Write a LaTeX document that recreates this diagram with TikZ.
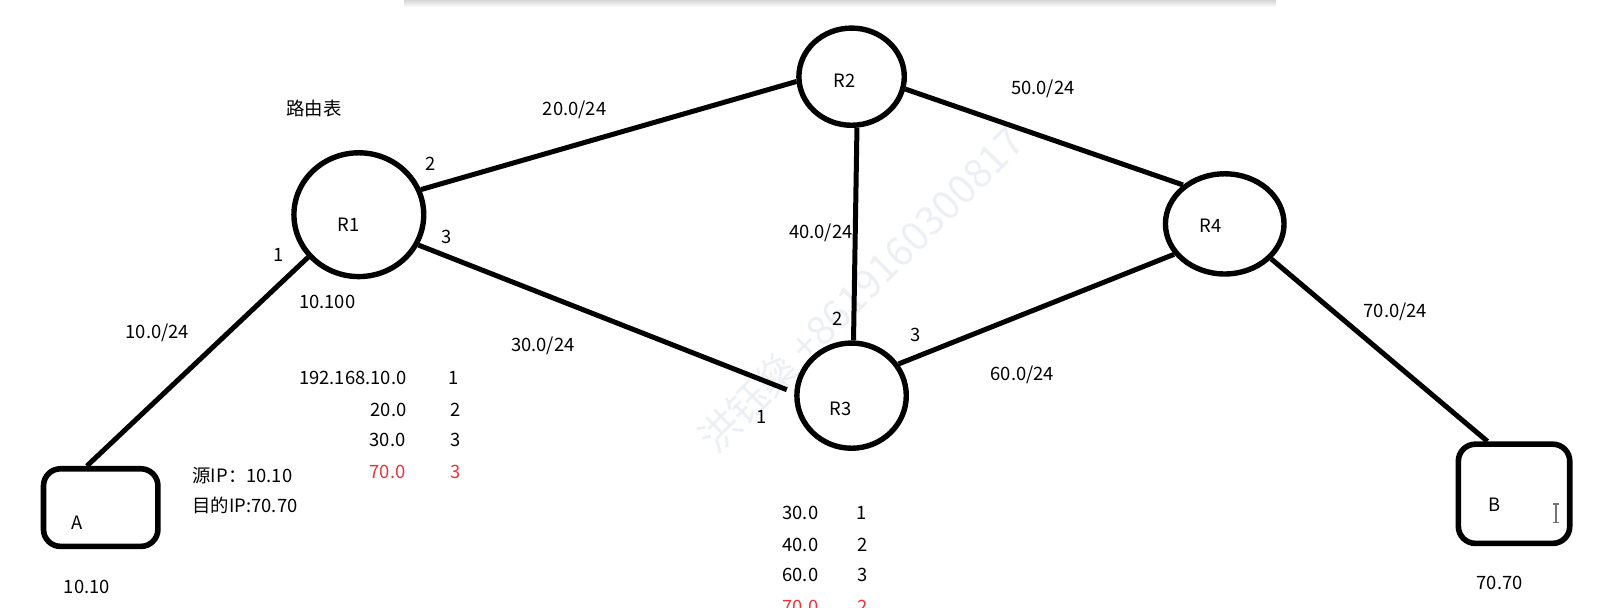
\documentclass[tikz,border=0pt]{standalone}
\usepackage{fontspec}
\setmainfont{Noto Sans CJK SC}
\usetikzlibrary{shapes.geometric,calc}
\definecolor{tabred}{RGB}{232,52,62}
\definecolor{wmark}{RGB}{236,239,244}
\begin{document}
\begin{tikzpicture}[x=0.51116pt,y=-0.51116pt,
  every node/.style={font=\fontsize{9.2}{11}\selectfont},
  lbl/.style={inner sep=0pt,text height=0.73em,text depth=0pt},
  router/.style={ellipse,draw,line width=2.7pt,inner sep=0pt},
  host/.style={rectangle,draw,line width=2.8pt,rounded corners=8.5pt,inner sep=0pt},
  link/.style={line width=2.5pt},
  redtxt/.style={lbl,text=tabred}]
\useasboundingbox (0,0) rectangle (1568,594);
% top shadow
\shade[top color=black!16,bottom color=white] (395,0) rectangle (1248,7);
% watermark
\node[rotate=45,text=wmark,font=\fontsize{20}{24}\selectfont,inner sep=0pt] (wm) at (842,283) {洪钰燊 +8619160300817};
% routers and hosts
\node[router,minimum width=64.9pt,minimum height=61.9pt] (R1) at (351,210) {};
\node[router,minimum width=52.7pt,minimum height=48.6pt] (R2) at (833,75) {};
\node[router,minimum width=54.7pt,minimum height=52.6pt] (R3) at (833,387) {};
\node[router,minimum width=59.3pt,minimum height=50.1pt] (R4) at (1198,219) {};
\node[host,minimum width=57.2pt,minimum height=38.8pt] (A) at (98.5,496.5) {};
\node[host,minimum width=55.7pt,minimum height=49.6pt] (B) at (1481,483) {};
% links
\draw[link] ([xshift=-6.9pt]A.north) -- (R1.220);
\draw[link] (R1.22) -- (R2.185);
\draw[link,shorten >=4pt] (R1.-27) -- (R3.177);
\draw[link] (R2.276) -- (R3.88);
\draw[link] (R2.-13.5) -- (R4.137);
\draw[link] (R3.34) -- (R4.211);
\draw[link] (R4.-37) -- ([xshift=-13.3pt]B.north);
% node labels
\node[lbl] (tR1) at (341,219) {R1};
\node[lbl] (tR2) at (826,78) {R2};
\node[lbl] (tR3) at (822,399) {R3};
\node[lbl] (tR4) at (1184,220) {R4};
\node[lbl] (tA) at (75,511) {A};
\node[lbl] (tB) at (1462,493) {B};
% network labels
\node[lbl] (rt) at (307,106) {路由表};
\node[lbl] (n20) at (562,106) {20.0/24};
\node[lbl] (n50) at (1020,85) {50.0/24};
\node[lbl] (n40) at (803,226) {40.0/24};
\node[lbl] (n70) at (1365,303) {70.0/24};
\node[lbl] (n10) at (154,324) {10.0/24};
\node[lbl] (n30) at (531,337) {30.0/24};
\node[lbl] (n60) at (1000,365) {60.0/24};
% port numbers
\node[lbl] (p12) at (421,160) {2};
\node[lbl] (p13) at (437,231) {3};
\node[lbl] (p11) at (273,249) {1};
\node[lbl] (p32) at (819,311) {2};
\node[lbl] (p33) at (896,327) {3};
\node[lbl] (p31) at (745,407) {1};
% addresses
\node[lbl] (ipR1) at (320,295) {10.100};
\node[lbl] (ipA) at (85,573) {10.10};
\node[lbl] (ipB) at (1467,569) {70.70};
\node[lbl,anchor=west] (src) at (188,465) {源IP：10.10};
\node[lbl,anchor=west] (dst) at (188,494) {目的IP:70.70};
% routing table R1
\node[lbl,anchor=east] (a1) at (398,369) {192.168.10.0};
\node[lbl,anchor=east] (a2) at (398,400) {20.0};
\node[lbl,anchor=east] (a3) at (397,430) {30.0};
\node[redtxt,anchor=east] (a4) at (397,461) {70.0};
\node[lbl] (b1) at (444,369) {1};
\node[lbl] (b2) at (446,400) {2};
\node[lbl] (b3) at (446,430) {3};
\node[redtxt] (b4) at (446,461) {3};
% routing table R3
\node[lbl,anchor=west] (c1) at (765,501) {30.0};
\node[lbl,anchor=west] (c2) at (765,532) {40.0};
\node[lbl,anchor=west] (c3) at (765,562) {60.0};
\node[redtxt,anchor=west] (c4) at (765,593) {70.0};
\node[lbl] (d1) at (843,501) {1};
\node[lbl] (d2) at (844,532) {2};
\node[lbl] (d3) at (844,562) {3};
\node[redtxt] (d4) at (844,593) {2};
% text cursor
\draw[black!55,line width=0.6pt] (1522,493) -- (1522,511) (1519,493) -- (1525,493) (1519,511) -- (1525,511);
\end{tikzpicture}
\end{document}
